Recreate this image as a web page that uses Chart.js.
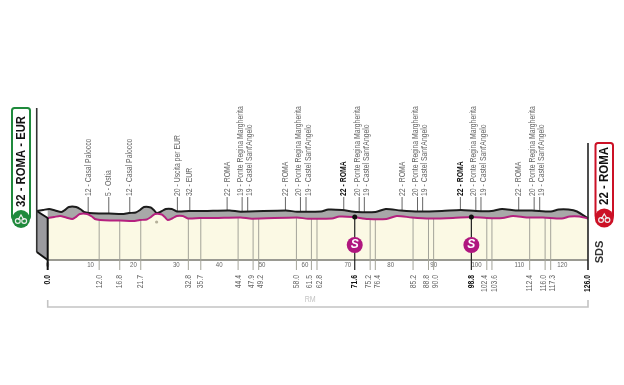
<!DOCTYPE html>
<html>
<head>
<meta charset="utf-8">
<script src="https://cdn.jsdelivr.net/npm/chart.js@4"></script>
<style>
  html, body { margin: 0; background: #fff; }
  canvas { display: block; }
</style>
</head>
<body>
<canvas id="stage" width="624" height="385"></canvas>
<script>
// road profile, km / height
const profileKm = [0, 1.5, 2.9, 4.3, 5.7, 6.4, 7.5, 9.2, 10.3, 11, 12.2, 14.5, 16.9, 19.9, 21.5, 23.1, 24.1, 25, 26.6, 27.3, 28, 29, 30.1, 31.5, 32.7, 35.5, 39, 45, 47.6, 58.1, 60.7, 66.3, 68, 71.2, 74.7, 79, 81.4, 84.9, 89.1, 94.5, 98.9, 102.4, 106.1, 108.5, 111.7, 115.5, 119.9, 121.7, 124, 126];
const profileElev = [42, 43, 44, 42.5, 41, 42.5, 46, 46, 43.5, 41, 40, 39.5, 39.5, 39, 40, 40.5, 43, 46, 45.5, 43, 40, 41.5, 44, 44, 41.5, 42, 42, 42.5, 41.3, 42.5, 41.3, 41.5, 43.5, 43, 41, 41, 44, 42.5, 41.5, 42, 43, 42, 42, 44, 42.5, 42.5, 41.5, 43.5, 43.5, 41.5];

// passages
const stopKm = [12.0, 16.8, 21.7, 32.8, 35.7, 44.4, 47.9, 49.2, 58.0, 61.5, 62.8, 71.6, 75.2, 76.4, 85.2, 88.8, 90.0, 98.8, 102.4, 103.6, 112.4, 116.0, 117.3];
const stopElev = [40, 39.5, 40, 41.5, 42, 42.5, 41.5, 41.5, 42.5, 41.5, 41.5, 43, 41, 41, 42.5, 41.5, 41.5, 43, 42, 42, 42.5, 42.5, 42];
const stopNames = ["12 - Casal Palocco", "5 - Ostia", "12 - Casal Palocco", "20 - Uscita per EUR", "32 - EUR", "22 - ROMA", "19 - Ponte Regina Margherita", "19 - Castel Sant'Angelo", "22 - ROMA", "20 - Ponte Regina Margherita", "19 - Castel Sant'Angelo", "22 - ROMA", "20 - Ponte Regina Margherita", "19 - Castel Sant'Angelo", "22 - ROMA", "20 - Ponte Regina Margherita", "19 - Castel Sant'Angelo", "22 - ROMA", "20 - Ponte Regina Margherita", "19 - Castel Sant'Angelo", "22 - ROMA", "20 - Ponte Regina Margherita", "19 - Castel Sant'Angelo"];

const axisKm = [0, 10, 20, 30, 40, 50, 60, 70, 80, 90, 100, 110, 120];
const sprintKm = [71.6, 98.8];
const sprintElev = [43, 43];
const endsKm = [0, 126];
const startLabel = "32 - ROMA - EUR";
const finishLabel = "22 - ROMA";

// the 3d look: back edge sits a bit left and above the road line
const depthKm = 2.56;
const depthElev = 7;
const kmMin = -2.73, kmMax = 126;
const under = -10;   // stems run a bit under the base line
const topElev = 63;

const sans = '"Liberation Sans", sans-serif';
const tickVal = ctx => (ctx.tick ? ctx.tick.value : NaN);
const isBold = v => sprintKm.includes(v) || endsKm.includes(v);

// Ponte / Castel are too close together, their labels get pushed apart
const labelKm = stopKm.map((k, i) => {
  if (stopNames[i].includes("Castel")) return k + 0.5;
  if (stopNames[i].includes("Ponte")) return k - 0.45;
  return k;
});
const kmLabels = [0, ...stopKm, 126].map(k => k.toFixed(1));

const frontPts = profileKm.map((k, i) => ({ x: k, y: profileElev[i] }));
const backPts = profileKm.map((k, i) => ({ x: k - depthKm, y: profileElev[i] + depthElev }));
backPts.push({ x: 126, y: profileElev[profileElev.length - 1] });

const stems = (kms, fn) => kms.flatMap((k, i) => [...fn(k, i), { x: k, y: null }]);

const line = (data, color, width, extra) => Object.assign({
  data, borderColor: color, borderWidth: width, pointRadius: 0, showLine: true, clip: false, fill: false
}, extra);

const datasets = [
  // 0 cream body, under everything
  line(frontPts, "rgba(0,0,0,0)", 0, { fill: { target: { value: 0 } }, backgroundColor: "#fbf9e4", order: 20 }),
  // 1 base line
  line([{ x: 0, y: 0 }, { x: 126, y: 0 }], "#9a9a92", 2, { order: 15 }),
  // 2 stems, below the road
  line(stems(stopKm.filter(k => !sprintKm.includes(k)), k => [{ x: k, y: under }, { x: k, y: stopElev[stopKm.indexOf(k)] }]), "#a3a399", 1, { order: 14 }),
  // 3 stems, above the back edge
  line(stems(stopKm, (k, i) => [{ x: k - depthKm, y: stopElev[i] + depthElev }, { x: k - depthKm, y: topElev }]), "#666", 1, { order: 14 }),
  // 4 road line (fill target of the back edge)
  line(frontPts, "#b5217f", 2, { order: 5, tension: 0.25 }),
  // 5 back edge, grey band down to the road
  line(backPts, "#1c1c1c", 2, { fill: { target: 4 }, backgroundColor: "#a8a8a8", order: 6, tension: 0.25 }),
  // 6, 7 left wall
  line([{ x: -depthKm, y: 8 }, { x: 0, y: 0 }], "#111", 2, { order: 4 }),
  line([{ x: -depthKm, y: 49 }, { x: 0, y: 42 }], "#111", 2, { fill: { target: 6 }, backgroundColor: "#9b9b9f", order: 4 }),
  // 8 wall back edge and pole
  line([{ x: -depthKm, y: 8 }, { x: -depthKm, y: 152 }], "#333", 1.6, { order: 3 }),
  // 9 start and finish uprights
  line([{ x: 0, y: under }, { x: 0, y: 42 }], "#111", 2, { order: 3 }),
  line([{ x: 126, y: under }, { x: 126, y: 117 }], "#222", 1.6, { order: 3 }),
  // 11 sprint stems
  line(stems(sprintKm, (k, i) => [{ x: k, y: under }, { x: k, y: sprintElev[i] }]), "#222", 1.2, { order: 3 }),
  // 12 dots on the road
  line(sprintKm.map((k, i) => ({ x: k, y: sprintElev[i] })), "#000", 0, { showLine: false, pointRadius: 2.5, pointBackgroundColor: "#111", pointBorderWidth: 0, order: 2 }),
  // 13 sprint badges
  line(sprintKm.map(k => ({ x: k, y: 15 })), "#fff", 0, { showLine: false, pointRadius: 8, pointBackgroundColor: "#b0177f", pointBorderWidth: 0, order: 1 }),
  // 14 bracket under the chart
  line([{ x: 0, y: -40 }, { x: 0, y: -47 }, { x: 126, y: -47 }, { x: 126, y: -40 }], "#c4c4c4", 1.6, { order: 1 }),
  // 15 small feed mark
  line([{ x: 25.4, y: 38 }], "#aaa", 0, { showLine: false, pointRadius: 1.6, pointBackgroundColor: "#b5b09a", pointBorderWidth: 0, order: 1 })
];

function setTicks(values) {
  return scale => { scale.ticks = values.map(v => ({ value: v })); };
}

function badge(ctx, x, top, w, cy, r, color, text, textY, maxLen) {
  ctx.save();
  ctx.strokeStyle = color;
  ctx.fillStyle = "#fff";
  ctx.lineWidth = 2;
  ctx.beginPath();
  ctx.roundRect(x, top, w, cy - top, 2.5);
  ctx.fill();
  ctx.stroke();
  ctx.beginPath();
  ctx.arc(x + w / 2, cy, r, 0, Math.PI * 2);
  ctx.fillStyle = color;
  ctx.fill();
  // little bike
  ctx.strokeStyle = "#eee";
  ctx.lineWidth = 1.2;
  const bx = x + w / 2;
  [-3.2, 3.2].forEach(d => {
    ctx.beginPath();
    ctx.arc(bx + d, cy + 2, 2.4, 0, Math.PI * 2);
    ctx.stroke();
  });
  ctx.beginPath();
  ctx.moveTo(bx - 3, cy + 1);
  ctx.lineTo(bx, cy - 4);
  ctx.lineTo(bx + 3, cy + 1);
  ctx.stroke();
  // label
  ctx.translate(x + w / 2 + 0.5, textY);
  ctx.rotate(-Math.PI / 2);
  ctx.fillStyle = "#111";
  ctx.font = "bold 13px " + sans;
  ctx.textAlign = "left";
  ctx.textBaseline = "middle";
  ctx.fillText(text, 0, 0, maxLen);
  ctx.restore();
}

const extras = {
  id: "extras",
  afterDraw(chart) {
    const { ctx, scales } = chart;
    const { x, y } = scales;
    // S on the sprint badges
    ctx.save();
    ctx.fillStyle = "#fff";
    ctx.font = "italic bold 12px " + sans;
    ctx.textAlign = "center";
    ctx.textBaseline = "middle";
    sprintKm.forEach(k => ctx.fillText("S", x.getPixelForValue(k), y.getPixelForValue(15), 99));
    ctx.restore();

    badge(ctx, 12, 108, 18, 219, 9, "#1f8a3c", startLabel, 207, 91);
    badge(ctx, 595.5, 143, 17.5, 218, 9.5, "#cc1126", finishLabel, 205, 58);

    // SDS
    ctx.save();
    ctx.translate(600, 252);
    ctx.rotate(-Math.PI / 2);
    ctx.fillStyle = "#333";
    ctx.font = "bold 11px " + sans;
    ctx.textAlign = "center";
    ctx.textBaseline = "middle";
    ctx.fillText("SDS", 0, 0, 99);
    ctx.restore();

    // RM over the bracket
    ctx.save();
    ctx.fillStyle = "#c4c4c4";
    ctx.font = "9px " + sans;
    ctx.textAlign = "center";
    ctx.textBaseline = "middle";
    ctx.fillText("RM", x.getPixelForValue(61.2), y.getPixelForValue(-40), 11);
    ctx.restore();
  }
};

const canvas = document.getElementById("stage");
const c2d = canvas.getContext("2d");

// no narrow font here, so the tick labels get squeezed to the reference width
const plainFill = c2d.fillText.bind(c2d);
c2d.fillText = (t, x, y, m) => plainFill(t, x, y, m === undefined ? c2d.measureText(t).width * 0.76 : m);

new Chart(canvas, {
  type: "scatter",
  data: { datasets },
  options: {
    responsive: false,
    animation: false,
    layout: { padding: { left: 36, right: 36, top: 0, bottom: 0 } },
    plugins: { legend: { display: false }, tooltip: { enabled: false } },
    scales: {
      y: { display: false, min: 0, max: topElev },
      x: {
        type: "linear", position: "bottom", weight: 0, min: kmMin, max: kmMax,
        grid: { display: false, drawTicks: false }, border: { display: false },
        afterBuildTicks: setTicks(axisKm),
        afterFit: s => { s.height = 14; },
        ticks: {
          autoSkip: false, maxRotation: 0, padding: 0, color: "#666",
          font: { family: sans, size: 8 },
          callback: v => String(v)
        }
      },
      xKm: {
        type: "linear", position: "bottom", weight: 1, min: kmMin, max: kmMax,
        grid: { display: false, drawTicks: false }, border: { display: false },
        afterBuildTicks: setTicks([0, ...labelKm, 126]),
        afterFit: s => { s.height = 111; },
        ticks: {
          autoSkip: false, minRotation: 90, maxRotation: 90, padding: 1,
          color: ctx => isBold(tickVal(ctx)) ? "#111" : "#666",
          font: ctx => ({ family: sans, size: 9, weight: isBold(tickVal(ctx)) ? "bold" : "normal" }),
          callback: (v, i) => kmLabels[i]
        }
      },
      // names sit over the back edge, so this axis is shifted by the depth
      xStops: {
        type: "linear", position: "top", min: kmMin + depthKm, max: kmMax + depthKm,
        grid: { display: false, drawTicks: false }, border: { display: false },
        afterBuildTicks: setTicks(labelKm),
        afterFit: s => { s.height = 197; },
        ticks: {
          autoSkip: false, minRotation: 90, maxRotation: 90, padding: 1, labelOffset: 10.8,
          color: ctx => sprintKm.includes(tickVal(ctx)) ? "#111" : "#666",
          font: ctx => ({ family: sans, size: 9, weight: sprintKm.includes(tickVal(ctx)) ? "bold" : "normal" }),
          callback: (v, i) => stopNames[i]
        }
      }
    }
  },
  plugins: [extras]
});
</script>
</body>
</html>
